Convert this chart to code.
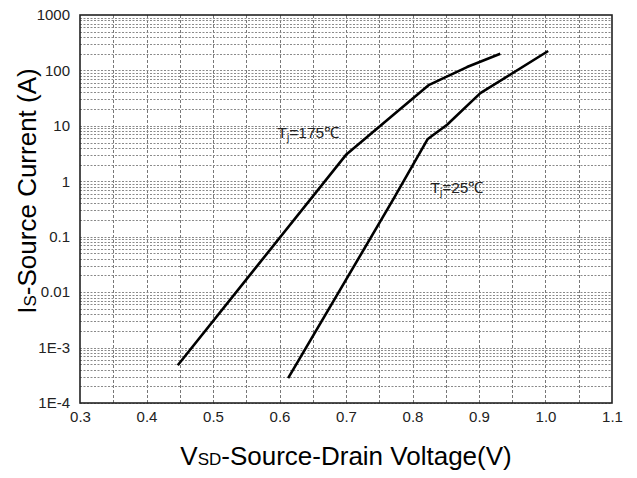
<!DOCTYPE html>
<html>
<head>
<meta charset="utf-8">
<script src="https://cdn.jsdelivr.net/npm/d3@7"></script>
<style>
  body { margin: 0; background: #fff; }
  svg { display: block; font-family: Arial, "Liberation Sans", sans-serif; }
</style>
</head>
<body>
<div id="chart"></div>
<script>
// ---- data ----
const xTicks = [0.3, 0.4, 0.5, 0.6, 0.7, 0.8, 0.9, 1.0, 1.1];
const yTicks = [1e-4, 1e-3, 0.01, 0.1, 1, 10, 100, 1000];
const yTickLabels = ["1E-4", "1E-3", "0.01", "0.1", "1", "10", "100", "1000"];

// Tj = 175 C
const vsd175 = [0.447, 0.70, 0.766, 0.825, 0.882, 0.932];
const is175 = [4.8e-4, 3.0, 14, 55, 115, 200];

// Tj = 25 C
const vsd25 = [0.613, 0.771, 0.823, 0.852, 0.902, 1.004];
const is25 = [2.8e-4, 0.47, 5.8, 10.5, 39, 224];

const curveLabels = [
  { temp: "175", v: 0.597, i: 6 },
  { temp: "25", v: 0.827, i: 0.62 }
];

const width = 637,
  height = 478;
const margin = { top: 15, right: 25, bottom: 75, left: 80 };

const svg = d3
  .select("#chart")
  .append("svg")
  .attr("width", width)
  .attr("height", height);

const x = d3
  .scaleLinear()
  .domain([0.3, 1.1])
  .range([margin.left, width - margin.right]);

const y = d3
  .scaleLog()
  .domain([1e-4, 1000])
  .range([height - margin.bottom, margin.top]);

// grid lines
const grid = svg.append("g").attr("class", "grid");

// vertical dashed lines every 0.05
const vGrid = d3.range(7, 22).map((k) => k * 0.05);
grid
  .selectAll(".vgrid")
  .data(vGrid)
  .enter()
  .append("line")
  .attr("x1", (d) => Math.round(x(d)) + 0.5)
  .attr("x2", (d) => Math.round(x(d)) + 0.5)
  .attr("y1", y(1000))
  .attr("y2", y(1e-4))
  .attr("stroke", "#777")
  .attr("stroke-width", 1)
  .attr("stroke-dasharray", "3,2");

// horizontal: each decade plus minor 2..9
const hGrid = [];
for (let e = -4; e < 3; e++) {
  for (let m = 1; m < 10; m++) {
    hGrid.push(m * Math.pow(10, e));
  }
}
grid
  .selectAll(".hgrid")
  .data(hGrid)
  .enter()
  .append("line")
  .attr("x1", x(0.3))
  .attr("x2", x(1.1))
  .attr("y1", (d) => Math.round(y(d)) + 0.5)
  .attr("y2", (d) => Math.round(y(d)) + 0.5)
  .attr("stroke", "#8a8a8a")
  .attr("stroke-width", 1)
  .attr("stroke-dasharray", "2,1.5");

// frame
svg
  .append("rect")
  .attr("x", x(0.3))
  .attr("y", y(1000))
  .attr("width", x(1.1) - x(0.3))
  .attr("height", y(1e-4) - y(1000))
  .attr("fill", "none")
  .attr("stroke", "#222")
  .attr("stroke-width", 1.6);

// axes (labels only)
const xAxis = svg
  .append("g")
  .attr("transform", "translate(0," + y(1e-4) + ")")
  .call(
    d3
      .axisBottom(x)
      .tickValues(xTicks)
      .tickFormat(d3.format(".1f"))
      .tickSize(0)
      .tickPadding(8)
  );
xAxis.select(".domain").remove();
xAxis
  .selectAll("text")
  .attr("font-size", 15)
  .attr("font-family", "Arial, 'Liberation Sans', sans-serif")
  .attr("fill", "#222");

const yAxis = svg
  .append("g")
  .attr("transform", "translate(" + x(0.3) + ",0)")
  .call(
    d3
      .axisLeft(y)
      .tickValues(yTicks)
      .tickFormat((d, i) => yTickLabels[i])
      .tickSize(0)
      .tickPadding(10)
  );
yAxis.select(".domain").remove();
yAxis
  .selectAll("text")
  .attr("font-size", 15)
  .attr("font-family", "Arial, 'Liberation Sans', sans-serif")
  .attr("fill", "#222");

// curves
const line = d3
  .line()
  .x((d) => x(d[0]))
  .y((d) => y(d[1]));

const series = [d3.zip(vsd175, is175), d3.zip(vsd25, is25)];

svg
  .selectAll(".curve")
  .data(series)
  .enter()
  .append("path")
  .attr("class", "curve")
  .attr("d", line)
  .attr("fill", "none")
  .attr("stroke", "#000")
  .attr("stroke-width", 2.6)
  .attr("stroke-linejoin", "round");

// curve labels
const lbl = svg
  .selectAll(".clabel")
  .data(curveLabels)
  .enter()
  .append("text")
  .attr("class", "clabel")
  .attr("x", (d) => x(d.v))
  .attr("y", (d) => y(d.i))
  .attr("font-size", 15.5)
  .attr("fill", "#222");
lbl.append("tspan").text("T");
lbl
  .append("tspan")
  .attr("font-size", 10)
  .attr("dy", 3)
  .text("j");
lbl
  .append("tspan")
  .attr("dy", -3)
  .text((d) => "=" + d.temp + "\u2103");

// axis titles
const xt = svg
  .append("text")
  .attr("x", (x(0.3) + x(1.1)) / 2)
  .attr("y", 465)
  .attr("text-anchor", "middle")
  .attr("font-size", 26)
  .attr("fill", "#000");
xt.append("tspan").text("V");
xt.append("tspan").attr("font-size", 17).text("SD");
xt.append("tspan").text("-Source-Drain Voltage(V)");

const yt = svg
  .append("text")
  .attr("transform", "translate(36,191) rotate(-90)")
  .attr("text-anchor", "middle")
  .attr("font-size", 26)
  .attr("fill", "#000");
yt.append("tspan").text("I");
yt.append("tspan").attr("font-size", 17).text("S");
yt.append("tspan").text("-Source Current (A)");
</script>
</body>
</html>
